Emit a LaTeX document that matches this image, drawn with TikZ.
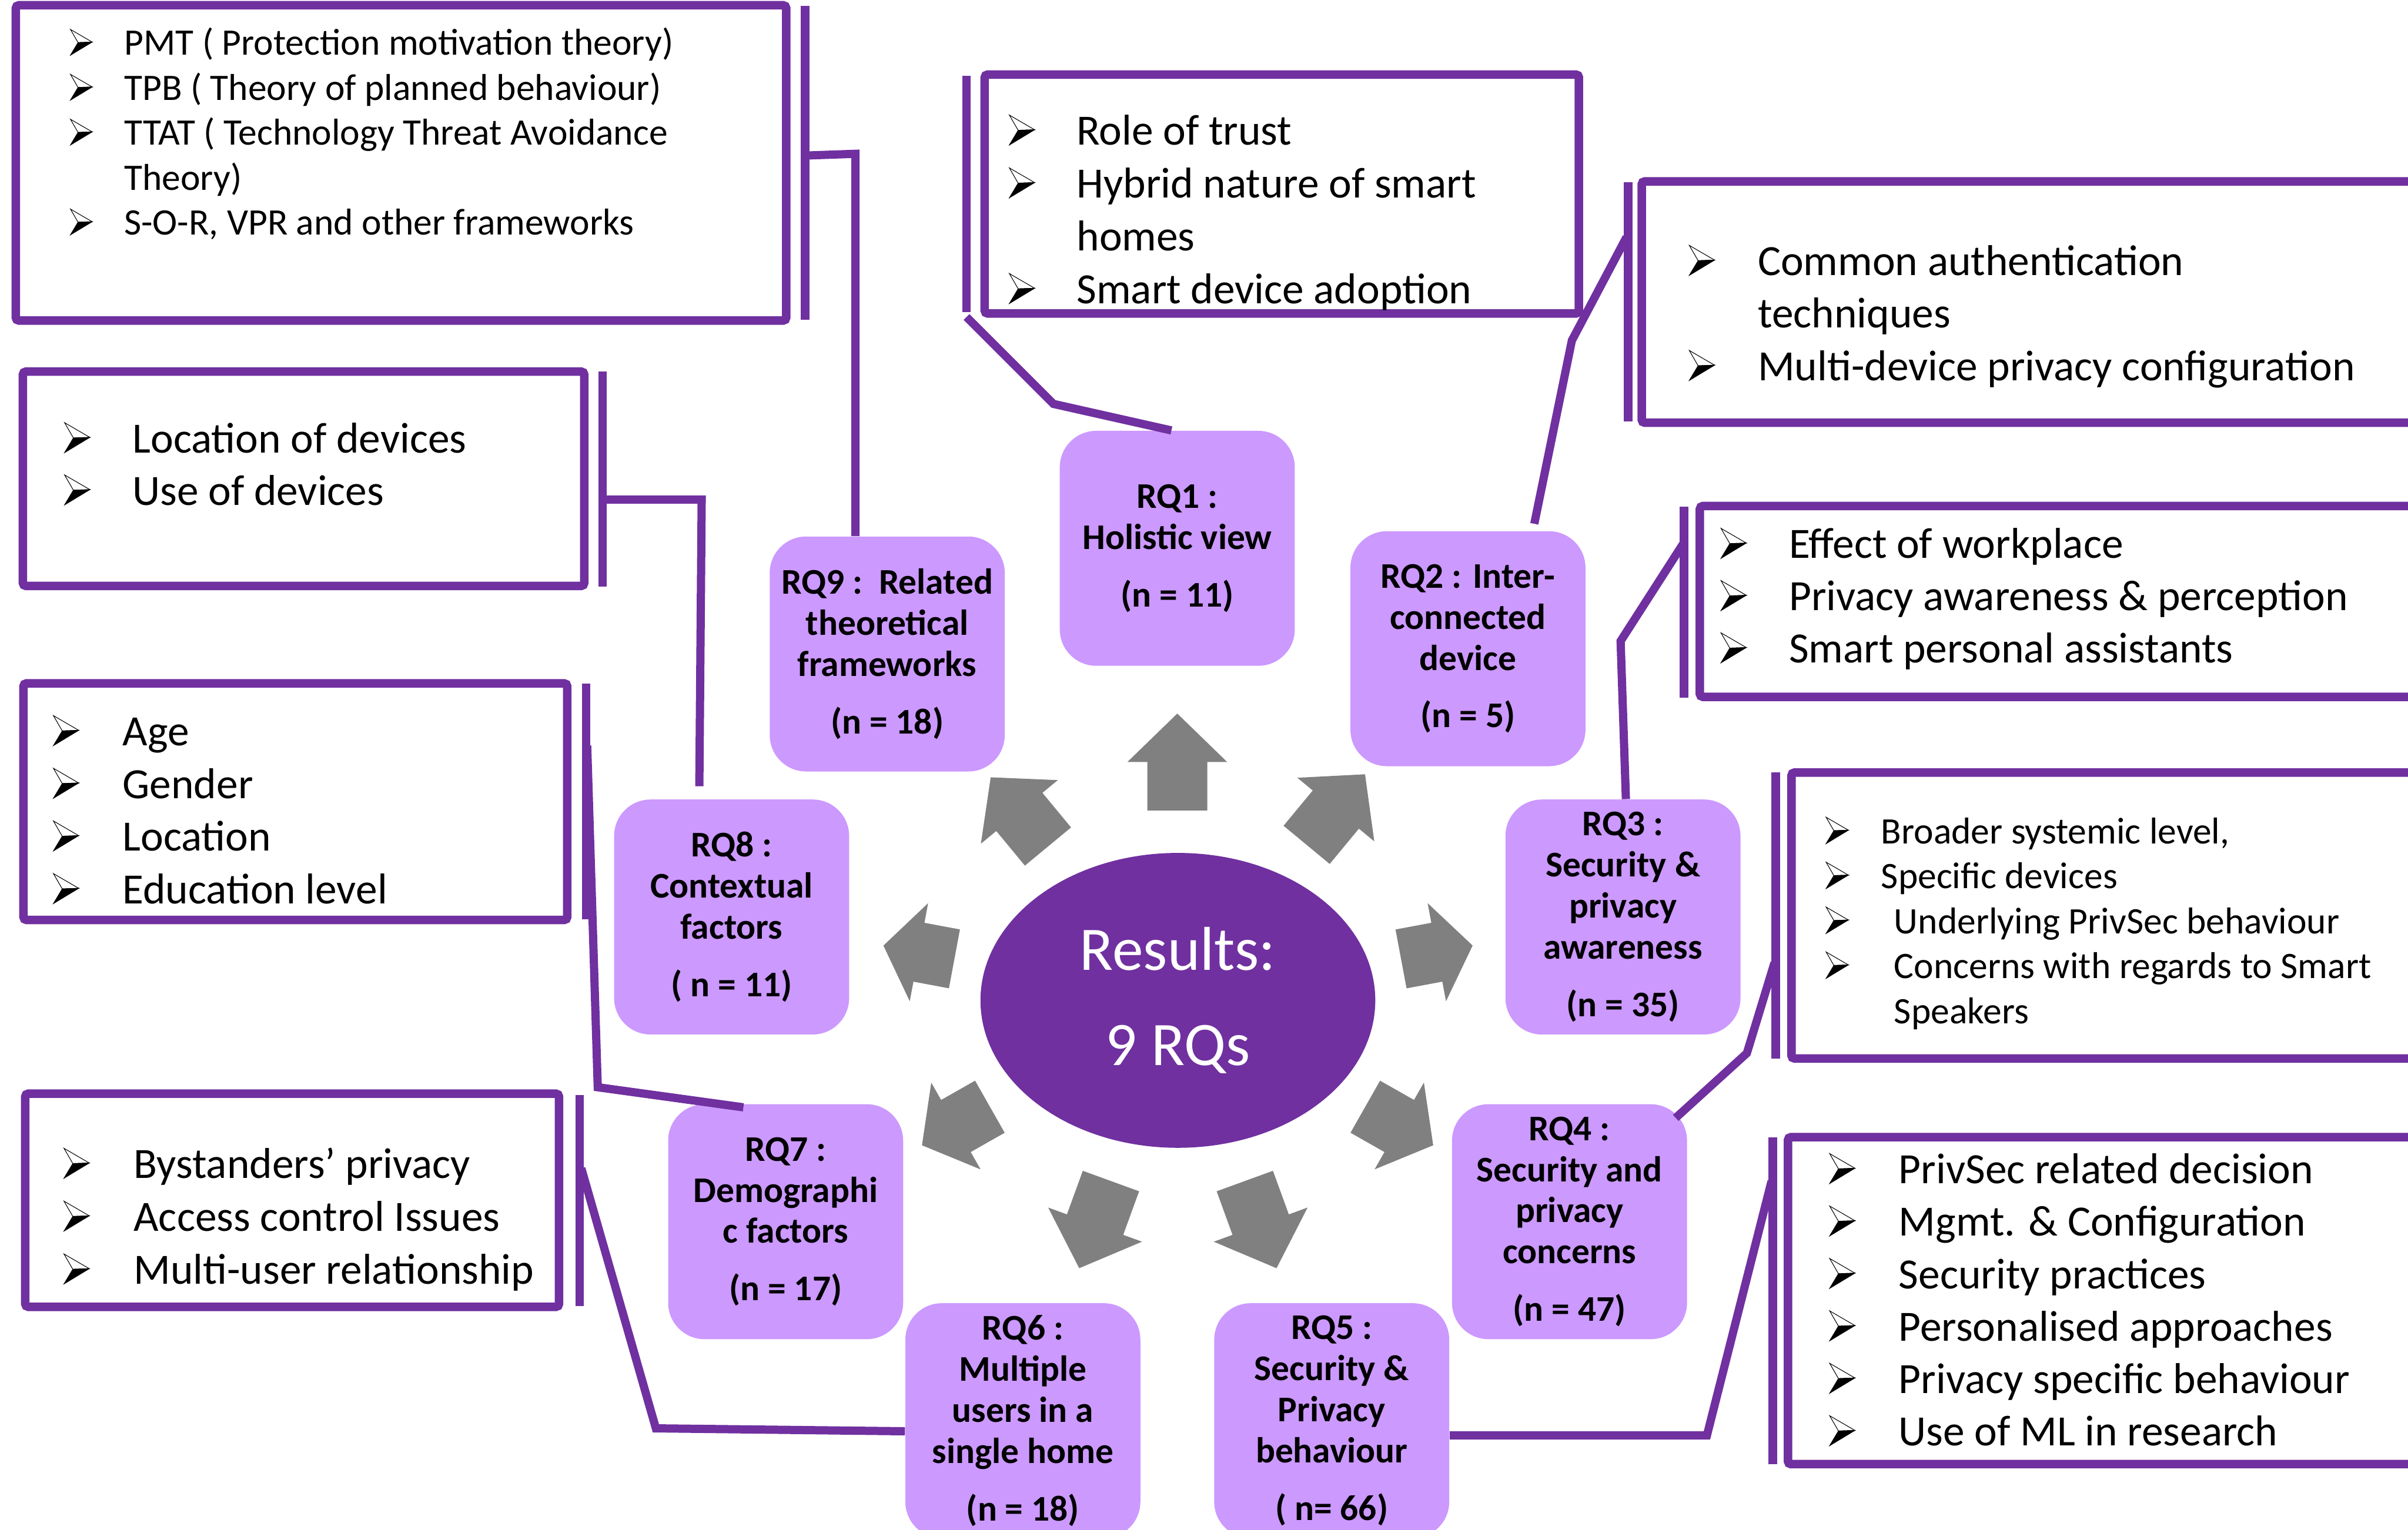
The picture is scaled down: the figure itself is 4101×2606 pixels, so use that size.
\documentclass[tikz,border=0pt]{standalone}
\usepackage{fontspec}
\setmainfont{Carlito}
\usetikzlibrary{calc,shapes.geometric}
\definecolor{purp}{HTML}{7030A0}
\definecolor{rqfill}{HTML}{CC99FF}
\definecolor{arrowgray}{HTML}{808080}
\newlength\bulind
\newcommand{\bitem}[1]{\hbox{\hspace{\bulind}#1}}
\tikzset{
  rqbox/.style={rectangle, rounded corners=0.62cm, fill=rqfill, minimum width=4cm, minimum height=4cm, inner sep=0pt, align=center, font=\bfseries\fontsize{17.5}{19.9}\selectfont},
  detailbox/.style={draw=purp, line width=0.145cm, rounded corners=0.05cm},
  bracketline/.style={draw=purp, line width=0.145cm},
  conn/.style={draw=purp, line width=0.14cm},
  listtext/.style={anchor=base west, inner sep=0pt},
  bigtext/.style={font=\fontsize{20.9}{24}\selectfont},
  smalltext/.style={font=\fontsize{18.1}{21}\selectfont},
  bulletarrow/.pic={
    \filldraw[fill=white, draw=black, line width=0.3pt] (0,-51) -- (43,-26) -- (15,-25) -- cycle;
    \filldraw[fill=black, draw=black, line width=0.3pt] (15,-25) -- (43,-26) -- (0,0) -- cycle;
  }
}
\begin{document}
\begin{tikzpicture}[x=0.01cm, y=-0.01cm]
\useasboundingbox (0,0) rectangle (4101,2606);
\clip (0,0) rectangle (4101,2606);
\fill[white] (0,0) rectangle (4101,2606);

% ---------- detail boxes ----------
\draw[detailbox] (27,9) rectangle (1339,546);
\draw[detailbox] (1677,127) rectangle (2689,534);
\draw[detailbox] (2796,309) rectangle (4160,720);
\draw[detailbox] (2895,862) rectangle (4160,1187);
\draw[detailbox] (3051,1316) rectangle (4160,1803);
\draw[detailbox] (3045,1937) rectangle (4160,2494);
\draw[detailbox] (43,1863) rectangle (952,2226);
\draw[detailbox] (40,1164) rectangle (966,1567);
\draw[detailbox] (39,633) rectangle (995,998);

% ---------- bracket lines ----------
\draw[bracketline] (1371,10) -- (1371,545);
\draw[bracketline] (1646,129) -- (1646,532);
\draw[bracketline] (2773,310) -- (2773,718);
\draw[bracketline] (2868,863) -- (2868,1188);
\draw[bracketline] (3024,1316) -- (3024,1803);
\draw[bracketline] (3019,1937) -- (3019,2494);
\draw[bracketline] (987,1865) -- (987,2225);
\draw[bracketline] (998,1164) -- (998,1566);
\draw[bracketline] (1026,633) -- (1026,999);

% ---------- bullets ----------
\foreach \by in {94,170.5,247,400}{ \pic[scale=0.86] at (120,\by) {bulletarrow}; }
\foreach \by in {247,337,517}{ \pic at (1719,\by) {bulletarrow}; }
\foreach \by in {469,648}{ \pic at (2877,\by) {bulletarrow}; }
\foreach \by in {951,1040,1129}{ \pic at (2931,\by) {bulletarrow}; }
\foreach \by in {1437,1513.5,1590,1666.5}{ \pic[scale=0.88] at (3110,\by) {bulletarrow}; }
\foreach \by in {2016,2105.3,2194.6,2283.9,2373.2,2462.5}{ \pic at (3116,\by) {bulletarrow}; }
\foreach \by in {2007,2097,2187}{ \pic at (109,\by) {bulletarrow}; }
\foreach \by in {1270,1359.7,1449.4,1539.1}{ \pic at (91,\by) {bulletarrow}; }
\foreach \by in {771,860}{ \pic at (110,\by) {bulletarrow}; }

% ---------- detail texts ----------
\node[listtext, smalltext] (tA) at (120,94) {\setlength\bulind{0.91cm}\vtop{\baselineskip=0.765cm
  \bitem{PMT ( Protection motivation theory)}
  \bitem{TPB ( Theory of planned behaviour)}
  \bitem{TTAT ( Technology Threat Avoidance}
  \bitem{Theory)}
  \bitem{S-O-R, VPR and other frameworks}}};
\node[listtext, bigtext] (tB) at (1719,247) {\setlength\bulind{1.14cm}\vtop{\baselineskip=0.9cm
  \bitem{Role of trust}
  \bitem{Hybrid nature of smart}
  \bitem{homes}
  \bitem{Smart device adoption}}};
\node[listtext, bigtext] (tC) at (2877,469) {\setlength\bulind{1.16cm}\vtop{\baselineskip=0.895cm
  \bitem{Common authentication}
  \bitem{techniques}
  \bitem{Multi-device privacy configuration}}};
\node[listtext, bigtext] (tD) at (2931,951) {\setlength\bulind{1.15cm}\vtop{\baselineskip=0.89cm
  \bitem{Effect of workplace}
  \bitem{Privacy awareness \& perception}
  \bitem{Smart personal assistants}}};
\node[listtext, smalltext] (tE) at (3110,1437) {\setlength\bulind{0.93cm}\vtop{\baselineskip=0.765cm
  \bitem{Broader systemic level,}
  \bitem{Specific devices}
  \bitem{\hspace{0.22cm}Underlying PrivSec behaviour}
  \bitem{\hspace{0.22cm}Concerns with regards to Smart}
  \bitem{\hspace{0.22cm}Speakers}}};
\node[listtext, bigtext] (tF) at (3116,2016) {\setlength\bulind{1.17cm}\vtop{\baselineskip=0.893cm
  \bitem{PrivSec related decision}
  \bitem{Mgmt. \& Configuration}
  \bitem{Security practices}
  \bitem{Personalised approaches}
  \bitem{Privacy specific behaviour}
  \bitem{Use of ML in research}}};
\node[listtext, bigtext] (tG) at (109,2007) {\setlength\bulind{1.18cm}\vtop{\baselineskip=0.9cm
  \bitem{Bystanders’ privacy}
  \bitem{Access control Issues}
  \bitem{Multi-user relationship}}};
\node[listtext, bigtext] (tH) at (91,1270) {\setlength\bulind{1.17cm}\vtop{\baselineskip=0.897cm
  \bitem{Age}
  \bitem{Gender}
  \bitem{Location}
  \bitem{Education level}}};
\node[listtext, bigtext] (tI) at (110,771) {\setlength\bulind{1.15cm}\vtop{\baselineskip=0.89cm
  \bitem{Location of devices}
  \bitem{Use of devices}}};

% ---------- RQ boxes ----------
\node[rqbox] (rq1) at (2005,934) {RQ1 :\\Holistic view\\[0.28cm](n = 11)};
\node[rqbox] (rq2) at (2500,1105) {RQ2 : Inter-\\connected\\device\\[0.28cm](n = 5)};
\node[rqbox] (rq3) at (2764,1562) {RQ3 :\\Security \&\\privacy\\awareness\\[0.28cm](n = 35)};
\node[rqbox] (rq4) at (2673,2081) {RQ4 :\\Security and\\privacy\\concerns\\[0.28cm](n = 47)};
\node[rqbox] (rq5) at (2268,2420) {RQ5 :\\Security \&\\Privacy\\behaviour\\[0.28cm]( n= 66)};
\node[rqbox] (rq6) at (1742,2420) {RQ6 :\\Multiple\\users in a\\single home\\[0.28cm](n = 18)};
\node[rqbox] (rq7) at (1338,2081) {RQ7 :\\Demographi\\c factors\\[0.28cm](n = 17)};
\node[rqbox] (rq8) at (1246,1562) {RQ8 :\\Contextual\\factors\\[0.28cm]( n = 11)};
\node[rqbox] (rq9) at (1511,1114) {RQ9 :~~Related\\theoretical\\frameworks\\[0.28cm](n = 18)};

% ---------- centre ----------
\node[ellipse, fill=purp, minimum width=6.72cm, minimum height=5.02cm, inner sep=0pt, text=white, align=center, font=\fontsize{30}{46}\selectfont] (res) at (2006,1704) {Results:\\9 RQs};

% ---------- grey arrows (centre x / centre y / direction / half length) ----------
\foreach \cx/\cy/\ang/\hl in {2005/1298/90/82.5, 2275/1379/50.4/78, 1736/1383/129.6/76.5, 2447/1622/10.6/62, 1565/1622/169.4/61.5, 2383/1918/-29.6/66.5, 1628/1918/-150.4/66.5, 2147/2086/-70/79, 1865/2086/-110/79}{
  \fill[arrowgray, shift={(\cx,\cy)}, rotate=\ang] (-\hl,-51) -- (0,-51) -- (0,-85) -- (\hl,0) -- (0,85) -- (0,51) -- (-\hl,51) -- cycle;
}

% ---------- connectors ----------
\coordinate (sA) at (1371,265); \coordinate (kA) at (1457,262);
\draw[conn] (sA) -- (kA) -- (kA |- rq9.north);
\coordinate (sB) at (1646,540); \coordinate (kB) at (1794,688);
\draw[conn] (sB) -- (kB) -- ($(rq1.north)+(-10,0)$);
\coordinate (sC) at (2770,404); \coordinate (kC) at (2677,580);
\draw[conn] ($(rq2.north)+(113,-12)$) -- (kC) -- (sC);
\coordinate (sD) at (2866,927); \coordinate (kD) at (2760,1092);
\draw[conn] ($(rq3.north)+(5,0)$) -- (kD) -- (sD);
\coordinate (sE) at (3022,1640); \coordinate (kE) at (2975,1794);
\draw[conn] ($(rq4.north east)+(-20,24)$) -- (kE) -- (sE);
\coordinate (sF) at (3017,2012); \coordinate (kF) at (2907,2445);
\draw[conn] ($(rq5.east)+(0,25)$) -- (kF) -- (sF);
\coordinate (sG) at (990,1990); \coordinate (kG) at (1117,2433);
\draw[conn] ($(rq6.west)+(0,18)$) -- (kG) -- (sG);
\coordinate (sH) at (1000,1270); \coordinate (kH) at (1018,1852);
\draw[conn] (sH) -- (kH) -- ($(rq7.north)+(-72,6)$);
\coordinate (sI) at (1026,851); \coordinate (kI) at (1195,851);
\draw[conn] (sI) -- (kI) -- ($(kI |- rq8.north)+(-4,-22)$);
\end{tikzpicture}
\end{document}
